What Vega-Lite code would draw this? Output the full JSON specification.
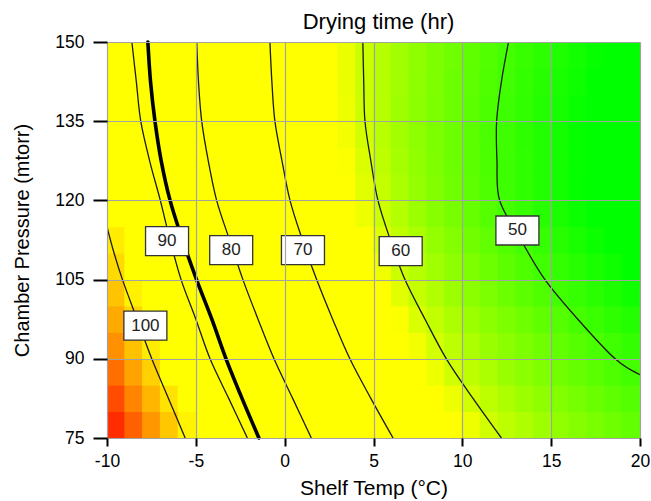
{
  "$schema": "https://vega.github.io/schema/vega-lite/v6.json",
  "width": 533,
  "height": 396,
  "autosize": {"type": "none"},
  "padding": {"left": 107, "top": 42, "right": 11, "bottom": 63},
  "background": "white",
  "config": {"view": {"stroke": null}, "font": "Liberation Sans"},
  "title": {"text": "Drying time (hr)", "fontSize": 22, "fontWeight": "normal", "font": "Liberation Sans", "color": "#000", "anchor": "middle", "offset": -1, "dx": 5},
  "datasets": {
    "grid": [
{"t":-9.5,"p":77.5,"v":110.4},{"t":-8.5,"p":77.5,"v":107.5},{"t":-7.5,"p":77.5,"v":104.6},{"t":-6.5,"p":77.5,"v":101.7},{"t":-5.5,"p":77.5,"v":98.8},{"t":-4.5,"p":77.5,"v":95.9},{"t":-3.5,"p":77.5,"v":93.0},{"t":-2.5,"p":77.5,"v":90.1},{"t":-1.5,"p":77.5,"v":87.4},{"t":-0.5,"p":77.5,"v":84.6},{"t":0.5,"p":77.5,"v":81.8},{"t":1.5,"p":77.5,"v":79.2},{"t":2.5,"p":77.5,"v":77.0},{"t":3.5,"p":77.5,"v":74.8},{"t":4.5,"p":77.5,"v":72.6},{"t":5.5,"p":77.5,"v":70.4},{"t":6.5,"p":77.5,"v":68.7},{"t":7.5,"p":77.5,"v":67.0},{"t":8.5,"p":77.5,"v":65.3},{"t":9.5,"p":77.5,"v":63.6},{"t":10.5,"p":77.5,"v":62.0},{"t":11.5,"p":77.5,"v":60.3},{"t":12.5,"p":77.5,"v":59.2},{"t":13.5,"p":77.5,"v":58.3},{"t":14.5,"p":77.5,"v":57.3},{"t":15.5,"p":77.5,"v":56.4},{"t":16.5,"p":77.5,"v":55.4},{"t":17.5,"p":77.5,"v":54.5},{"t":18.5,"p":77.5,"v":53.6},{"t":19.5,"p":77.5,"v":52.6},
{"t":-9.5,"p":82.5,"v":108.6},{"t":-8.5,"p":82.5,"v":105.7},{"t":-7.5,"p":82.5,"v":102.8},{"t":-6.5,"p":82.5,"v":99.9},{"t":-5.5,"p":82.5,"v":96.9},{"t":-4.5,"p":82.5,"v":94.0},{"t":-3.5,"p":82.5,"v":91.0},{"t":-2.5,"p":82.5,"v":88.2},{"t":-1.5,"p":82.5,"v":85.4},{"t":-0.5,"p":82.5,"v":82.6},{"t":0.5,"p":82.5,"v":79.9},{"t":1.5,"p":82.5,"v":77.6},{"t":2.5,"p":82.5,"v":75.4},{"t":3.5,"p":82.5,"v":73.1},{"t":4.5,"p":82.5,"v":70.9},{"t":5.5,"p":82.5,"v":68.9},{"t":6.5,"p":82.5,"v":67.2},{"t":7.5,"p":82.5,"v":65.5},{"t":8.5,"p":82.5,"v":63.7},{"t":9.5,"p":82.5,"v":62.0},{"t":10.5,"p":82.5,"v":60.3},{"t":11.5,"p":82.5,"v":59.2},{"t":12.5,"p":82.5,"v":58.2},{"t":13.5,"p":82.5,"v":57.2},{"t":14.5,"p":82.5,"v":56.2},{"t":15.5,"p":82.5,"v":55.2},{"t":16.5,"p":82.5,"v":54.2},{"t":17.5,"p":82.5,"v":53.3},{"t":18.5,"p":82.5,"v":52.3},{"t":19.5,"p":82.5,"v":51.3},
{"t":-9.5,"p":87.5,"v":106.8},{"t":-8.5,"p":87.5,"v":103.9},{"t":-7.5,"p":87.5,"v":101.0},{"t":-6.5,"p":87.5,"v":98.0},{"t":-5.5,"p":87.5,"v":95.0},{"t":-4.5,"p":87.5,"v":92.0},{"t":-3.5,"p":87.5,"v":89.0},{"t":-2.5,"p":87.5,"v":86.2},{"t":-1.5,"p":87.5,"v":83.5},{"t":-0.5,"p":87.5,"v":80.7},{"t":0.5,"p":87.5,"v":78.3},{"t":1.5,"p":87.5,"v":76.0},{"t":2.5,"p":87.5,"v":73.6},{"t":3.5,"p":87.5,"v":71.3},{"t":4.5,"p":87.5,"v":69.2},{"t":5.5,"p":87.5,"v":67.4},{"t":6.5,"p":87.5,"v":65.6},{"t":7.5,"p":87.5,"v":63.8},{"t":8.5,"p":87.5,"v":62.0},{"t":9.5,"p":87.5,"v":60.2},{"t":10.5,"p":87.5,"v":59.1},{"t":11.5,"p":87.5,"v":58.1},{"t":12.5,"p":87.5,"v":57.0},{"t":13.5,"p":87.5,"v":56.0},{"t":14.5,"p":87.5,"v":55.0},{"t":15.5,"p":87.5,"v":53.9},{"t":16.5,"p":87.5,"v":52.9},{"t":17.5,"p":87.5,"v":51.9},{"t":18.5,"p":87.5,"v":50.9},{"t":19.5,"p":87.5,"v":49.9},
{"t":-9.5,"p":92.5,"v":105.0},{"t":-8.5,"p":92.5,"v":102.1},{"t":-7.5,"p":92.5,"v":99.2},{"t":-6.5,"p":92.5,"v":96.2},{"t":-5.5,"p":92.5,"v":93.1},{"t":-4.5,"p":92.5,"v":90.1},{"t":-3.5,"p":92.5,"v":87.3},{"t":-2.5,"p":92.5,"v":84.5},{"t":-1.5,"p":92.5,"v":81.7},{"t":-0.5,"p":92.5,"v":79.1},{"t":0.5,"p":92.5,"v":76.7},{"t":1.5,"p":92.5,"v":74.4},{"t":2.5,"p":92.5,"v":72.0},{"t":3.5,"p":92.5,"v":69.7},{"t":4.5,"p":92.5,"v":67.9},{"t":5.5,"p":92.5,"v":66.0},{"t":6.5,"p":92.5,"v":64.1},{"t":7.5,"p":92.5,"v":62.3},{"t":8.5,"p":92.5,"v":60.4},{"t":9.5,"p":92.5,"v":59.1},{"t":10.5,"p":92.5,"v":58.1},{"t":11.5,"p":92.5,"v":57.0},{"t":12.5,"p":92.5,"v":55.9},{"t":13.5,"p":92.5,"v":54.8},{"t":14.5,"p":92.5,"v":53.7},{"t":15.5,"p":92.5,"v":52.6},{"t":16.5,"p":92.5,"v":51.6},{"t":17.5,"p":92.5,"v":50.5},{"t":18.5,"p":92.5,"v":49.6},{"t":19.5,"p":92.5,"v":48.8},
{"t":-9.5,"p":97.5,"v":103.5},{"t":-8.5,"p":97.5,"v":100.6},{"t":-7.5,"p":97.5,"v":97.5},{"t":-6.5,"p":97.5,"v":94.5},{"t":-5.5,"p":97.5,"v":91.5},{"t":-4.5,"p":97.5,"v":88.5},{"t":-3.5,"p":97.5,"v":85.7},{"t":-2.5,"p":97.5,"v":82.9},{"t":-1.5,"p":97.5,"v":80.1},{"t":-0.5,"p":97.5,"v":77.7},{"t":0.5,"p":97.5,"v":75.3},{"t":1.5,"p":97.5,"v":72.9},{"t":2.5,"p":97.5,"v":70.6},{"t":3.5,"p":97.5,"v":68.5},{"t":4.5,"p":97.5,"v":66.6},{"t":5.5,"p":97.5,"v":64.7},{"t":6.5,"p":97.5,"v":62.8},{"t":7.5,"p":97.5,"v":60.8},{"t":8.5,"p":97.5,"v":59.4},{"t":9.5,"p":97.5,"v":58.2},{"t":10.5,"p":97.5,"v":57.1},{"t":11.5,"p":97.5,"v":55.9},{"t":12.5,"p":97.5,"v":54.8},{"t":13.5,"p":97.5,"v":53.6},{"t":14.5,"p":97.5,"v":52.5},{"t":15.5,"p":97.5,"v":51.3},{"t":16.5,"p":97.5,"v":50.1},{"t":17.5,"p":97.5,"v":49.3},{"t":18.5,"p":97.5,"v":48.4},{"t":19.5,"p":97.5,"v":47.6},
{"t":-9.5,"p":102.5,"v":101.9},{"t":-8.5,"p":102.5,"v":98.9},{"t":-7.5,"p":102.5,"v":95.9},{"t":-6.5,"p":102.5,"v":92.8},{"t":-5.5,"p":102.5,"v":89.8},{"t":-4.5,"p":102.5,"v":87.0},{"t":-3.5,"p":102.5,"v":84.1},{"t":-2.5,"p":102.5,"v":81.2},{"t":-1.5,"p":102.5,"v":78.7},{"t":-0.5,"p":102.5,"v":76.3},{"t":0.5,"p":102.5,"v":73.9},{"t":1.5,"p":102.5,"v":71.5},{"t":2.5,"p":102.5,"v":69.2},{"t":3.5,"p":102.5,"v":67.2},{"t":4.5,"p":102.5,"v":65.3},{"t":5.5,"p":102.5,"v":63.3},{"t":6.5,"p":102.5,"v":61.3},{"t":7.5,"p":102.5,"v":59.6},{"t":8.5,"p":102.5,"v":58.4},{"t":9.5,"p":102.5,"v":57.1},{"t":10.5,"p":102.5,"v":55.9},{"t":11.5,"p":102.5,"v":54.7},{"t":12.5,"p":102.5,"v":53.4},{"t":13.5,"p":102.5,"v":52.2},{"t":14.5,"p":102.5,"v":51.0},{"t":15.5,"p":102.5,"v":49.8},{"t":16.5,"p":102.5,"v":48.9},{"t":17.5,"p":102.5,"v":48.0},{"t":18.5,"p":102.5,"v":47.1},{"t":19.5,"p":102.5,"v":46.2},
{"t":-9.5,"p":107.5,"v":100.4},{"t":-8.5,"p":107.5,"v":97.4},{"t":-7.5,"p":107.5,"v":94.4},{"t":-6.5,"p":107.5,"v":91.4},{"t":-5.5,"p":107.5,"v":88.5},{"t":-4.5,"p":107.5,"v":85.5},{"t":-3.5,"p":107.5,"v":82.6},{"t":-2.5,"p":107.5,"v":79.8},{"t":-1.5,"p":107.5,"v":77.3},{"t":-0.5,"p":107.5,"v":74.9},{"t":0.5,"p":107.5,"v":72.5},{"t":1.5,"p":107.5,"v":70.1},{"t":2.5,"p":107.5,"v":68.1},{"t":3.5,"p":107.5,"v":66.1},{"t":4.5,"p":107.5,"v":64.1},{"t":5.5,"p":107.5,"v":62.1},{"t":6.5,"p":107.5,"v":60.0},{"t":7.5,"p":107.5,"v":58.7},{"t":8.5,"p":107.5,"v":57.4},{"t":9.5,"p":107.5,"v":56.1},{"t":10.5,"p":107.5,"v":54.8},{"t":11.5,"p":107.5,"v":53.5},{"t":12.5,"p":107.5,"v":52.2},{"t":13.5,"p":107.5,"v":50.9},{"t":14.5,"p":107.5,"v":49.7},{"t":15.5,"p":107.5,"v":48.8},{"t":16.5,"p":107.5,"v":47.9},{"t":17.5,"p":107.5,"v":46.9},{"t":18.5,"p":107.5,"v":46.0},{"t":19.5,"p":107.5,"v":45.0},
{"t":-9.5,"p":112.5,"v":99.2},{"t":-8.5,"p":112.5,"v":96.2},{"t":-7.5,"p":112.5,"v":93.2},{"t":-6.5,"p":112.5,"v":90.2},{"t":-5.5,"p":112.5,"v":87.2},{"t":-4.5,"p":112.5,"v":84.2},{"t":-3.5,"p":112.5,"v":81.2},{"t":-2.5,"p":112.5,"v":78.6},{"t":-1.5,"p":112.5,"v":76.2},{"t":-0.5,"p":112.5,"v":73.7},{"t":0.5,"p":112.5,"v":71.3},{"t":1.5,"p":112.5,"v":69.1},{"t":2.5,"p":112.5,"v":67.1},{"t":3.5,"p":112.5,"v":65.1},{"t":4.5,"p":112.5,"v":63.0},{"t":5.5,"p":112.5,"v":61.0},{"t":6.5,"p":112.5,"v":59.3},{"t":7.5,"p":112.5,"v":58.0},{"t":8.5,"p":112.5,"v":56.6},{"t":9.5,"p":112.5,"v":55.3},{"t":10.5,"p":112.5,"v":53.9},{"t":11.5,"p":112.5,"v":52.6},{"t":12.5,"p":112.5,"v":51.2},{"t":13.5,"p":112.5,"v":49.9},{"t":14.5,"p":112.5,"v":48.9},{"t":15.5,"p":112.5,"v":47.9},{"t":16.5,"p":112.5,"v":46.9},{"t":17.5,"p":112.5,"v":45.9},{"t":18.5,"p":112.5,"v":44.9},{"t":19.5,"p":112.5,"v":43.9},
{"t":-9.5,"p":117.5,"v":97.9},{"t":-8.5,"p":117.5,"v":95.0},{"t":-7.5,"p":117.5,"v":92.1},{"t":-6.5,"p":117.5,"v":89.1},{"t":-5.5,"p":117.5,"v":86.0},{"t":-4.5,"p":117.5,"v":82.9},{"t":-3.5,"p":117.5,"v":79.8},{"t":-2.5,"p":117.5,"v":77.4},{"t":-1.5,"p":117.5,"v":75.0},{"t":-0.5,"p":117.5,"v":72.5},{"t":0.5,"p":117.5,"v":70.1},{"t":1.5,"p":117.5,"v":68.1},{"t":2.5,"p":117.5,"v":66.1},{"t":3.5,"p":117.5,"v":64.0},{"t":4.5,"p":117.5,"v":62.0},{"t":5.5,"p":117.5,"v":60.0},{"t":6.5,"p":117.5,"v":58.6},{"t":7.5,"p":117.5,"v":57.2},{"t":8.5,"p":117.5,"v":55.7},{"t":9.5,"p":117.5,"v":54.3},{"t":10.5,"p":117.5,"v":52.9},{"t":11.5,"p":117.5,"v":51.5},{"t":12.5,"p":117.5,"v":50.0},{"t":13.5,"p":117.5,"v":49.0},{"t":14.5,"p":117.5,"v":47.9},{"t":15.5,"p":117.5,"v":46.9},{"t":16.5,"p":117.5,"v":45.8},{"t":17.5,"p":117.5,"v":44.8},{"t":18.5,"p":117.5,"v":43.7},{"t":19.5,"p":117.5,"v":42.7},
{"t":-9.5,"p":122.5,"v":96.7},{"t":-8.5,"p":122.5,"v":93.8},{"t":-7.5,"p":122.5,"v":90.9},{"t":-6.5,"p":122.5,"v":87.9},{"t":-5.5,"p":122.5,"v":84.8},{"t":-4.5,"p":122.5,"v":81.6},{"t":-3.5,"p":122.5,"v":78.9},{"t":-2.5,"p":122.5,"v":76.4},{"t":-1.5,"p":122.5,"v":74.0},{"t":-0.5,"p":122.5,"v":71.6},{"t":0.5,"p":122.5,"v":69.3},{"t":1.5,"p":122.5,"v":67.3},{"t":2.5,"p":122.5,"v":65.3},{"t":3.5,"p":122.5,"v":63.3},{"t":4.5,"p":122.5,"v":61.3},{"t":5.5,"p":122.5,"v":59.5},{"t":6.5,"p":122.5,"v":58.0},{"t":7.5,"p":122.5,"v":56.6},{"t":8.5,"p":122.5,"v":55.1},{"t":9.5,"p":122.5,"v":53.7},{"t":10.5,"p":122.5,"v":52.3},{"t":11.5,"p":122.5,"v":50.8},{"t":12.5,"p":122.5,"v":49.5},{"t":13.5,"p":122.5,"v":48.5},{"t":14.5,"p":122.5,"v":47.4},{"t":15.5,"p":122.5,"v":46.4},{"t":16.5,"p":122.5,"v":45.3},{"t":17.5,"p":122.5,"v":44.3},{"t":18.5,"p":122.5,"v":43.2},{"t":19.5,"p":122.5,"v":42.1},
{"t":-9.5,"p":127.5,"v":95.5},{"t":-8.5,"p":127.5,"v":92.7},{"t":-7.5,"p":127.5,"v":89.8},{"t":-6.5,"p":127.5,"v":86.8},{"t":-5.5,"p":127.5,"v":83.8},{"t":-4.5,"p":127.5,"v":80.8},{"t":-3.5,"p":127.5,"v":78.2},{"t":-2.5,"p":127.5,"v":75.7},{"t":-1.5,"p":127.5,"v":73.3},{"t":-0.5,"p":127.5,"v":70.9},{"t":0.5,"p":127.5,"v":68.7},{"t":1.5,"p":127.5,"v":66.8},{"t":2.5,"p":127.5,"v":64.8},{"t":3.5,"p":127.5,"v":62.8},{"t":4.5,"p":127.5,"v":60.8},{"t":5.5,"p":127.5,"v":59.1},{"t":6.5,"p":127.5,"v":57.7},{"t":7.5,"p":127.5,"v":56.3},{"t":8.5,"p":127.5,"v":54.9},{"t":9.5,"p":127.5,"v":53.5},{"t":10.5,"p":127.5,"v":52.1},{"t":11.5,"p":127.5,"v":50.7},{"t":12.5,"p":127.5,"v":49.5},{"t":13.5,"p":127.5,"v":48.5},{"t":14.5,"p":127.5,"v":47.4},{"t":15.5,"p":127.5,"v":46.4},{"t":16.5,"p":127.5,"v":45.4},{"t":17.5,"p":127.5,"v":44.3},{"t":18.5,"p":127.5,"v":43.3},{"t":19.5,"p":127.5,"v":42.3},
{"t":-9.5,"p":132.5,"v":94.4},{"t":-8.5,"p":132.5,"v":91.6},{"t":-7.5,"p":132.5,"v":88.8},{"t":-6.5,"p":132.5,"v":85.8},{"t":-5.5,"p":132.5,"v":82.9},{"t":-4.5,"p":132.5,"v":79.9},{"t":-3.5,"p":132.5,"v":77.5},{"t":-2.5,"p":132.5,"v":75.1},{"t":-1.5,"p":132.5,"v":72.6},{"t":-0.5,"p":132.5,"v":70.2},{"t":0.5,"p":132.5,"v":68.2},{"t":1.5,"p":132.5,"v":66.2},{"t":2.5,"p":132.5,"v":64.2},{"t":3.5,"p":132.5,"v":62.3},{"t":4.5,"p":132.5,"v":60.3},{"t":5.5,"p":132.5,"v":58.8},{"t":6.5,"p":132.5,"v":57.5},{"t":7.5,"p":132.5,"v":56.1},{"t":8.5,"p":132.5,"v":54.7},{"t":9.5,"p":132.5,"v":53.4},{"t":10.5,"p":132.5,"v":52.0},{"t":11.5,"p":132.5,"v":50.6},{"t":12.5,"p":132.5,"v":49.5},{"t":13.5,"p":132.5,"v":48.4},{"t":14.5,"p":132.5,"v":47.4},{"t":15.5,"p":132.5,"v":46.4},{"t":16.5,"p":132.5,"v":45.4},{"t":17.5,"p":132.5,"v":44.4},{"t":18.5,"p":132.5,"v":43.4},{"t":19.5,"p":132.5,"v":42.4},
{"t":-9.5,"p":137.5,"v":93.5},{"t":-8.5,"p":137.5,"v":90.9},{"t":-7.5,"p":137.5,"v":88.0},{"t":-6.5,"p":137.5,"v":85.1},{"t":-5.5,"p":137.5,"v":82.3},{"t":-4.5,"p":137.5,"v":79.5},{"t":-3.5,"p":137.5,"v":77.0},{"t":-2.5,"p":137.5,"v":74.6},{"t":-1.5,"p":137.5,"v":72.2},{"t":-0.5,"p":137.5,"v":69.8},{"t":0.5,"p":137.5,"v":67.8},{"t":1.5,"p":137.5,"v":65.9},{"t":2.5,"p":137.5,"v":63.9},{"t":3.5,"p":137.5,"v":62.0},{"t":4.5,"p":137.5,"v":60.0},{"t":5.5,"p":137.5,"v":58.7},{"t":6.5,"p":137.5,"v":57.3},{"t":7.5,"p":137.5,"v":56.0},{"t":8.5,"p":137.5,"v":54.7},{"t":9.5,"p":137.5,"v":53.4},{"t":10.5,"p":137.5,"v":52.0},{"t":11.5,"p":137.5,"v":50.7},{"t":12.5,"p":137.5,"v":49.5},{"t":13.5,"p":137.5,"v":48.6},{"t":14.5,"p":137.5,"v":47.6},{"t":15.5,"p":137.5,"v":46.6},{"t":16.5,"p":137.5,"v":45.6},{"t":17.5,"p":137.5,"v":44.6},{"t":18.5,"p":137.5,"v":43.6},{"t":19.5,"p":137.5,"v":42.6},
{"t":-9.5,"p":142.5,"v":92.9},{"t":-8.5,"p":142.5,"v":90.4},{"t":-7.5,"p":142.5,"v":87.6},{"t":-6.5,"p":142.5,"v":84.8},{"t":-5.5,"p":142.5,"v":82.0},{"t":-4.5,"p":142.5,"v":79.2},{"t":-3.5,"p":142.5,"v":76.8},{"t":-2.5,"p":142.5,"v":74.4},{"t":-1.5,"p":142.5,"v":72.0},{"t":-0.5,"p":142.5,"v":69.6},{"t":0.5,"p":142.5,"v":67.7},{"t":1.5,"p":142.5,"v":65.8},{"t":2.5,"p":142.5,"v":63.8},{"t":3.5,"p":142.5,"v":61.9},{"t":4.5,"p":142.5,"v":59.9},{"t":5.5,"p":142.5,"v":58.7},{"t":6.5,"p":142.5,"v":57.4},{"t":7.5,"p":142.5,"v":56.1},{"t":8.5,"p":142.5,"v":54.8},{"t":9.5,"p":142.5,"v":53.5},{"t":10.5,"p":142.5,"v":52.3},{"t":11.5,"p":142.5,"v":51.0},{"t":12.5,"p":142.5,"v":49.8},{"t":13.5,"p":142.5,"v":48.8},{"t":14.5,"p":142.5,"v":47.9},{"t":15.5,"p":142.5,"v":46.9},{"t":16.5,"p":142.5,"v":46.0},{"t":17.5,"p":142.5,"v":45.0},{"t":18.5,"p":142.5,"v":44.0},{"t":19.5,"p":142.5,"v":43.1},
{"t":-9.5,"p":147.5,"v":92.4},{"t":-8.5,"p":147.5,"v":90.0},{"t":-7.5,"p":147.5,"v":87.2},{"t":-6.5,"p":147.5,"v":84.4},{"t":-5.5,"p":147.5,"v":81.7},{"t":-4.5,"p":147.5,"v":79.0},{"t":-3.5,"p":147.5,"v":76.6},{"t":-2.5,"p":147.5,"v":74.2},{"t":-1.5,"p":147.5,"v":71.7},{"t":-0.5,"p":147.5,"v":69.5},{"t":0.5,"p":147.5,"v":67.5},{"t":1.5,"p":147.5,"v":65.6},{"t":2.5,"p":147.5,"v":63.7},{"t":3.5,"p":147.5,"v":61.8},{"t":4.5,"p":147.5,"v":59.9},{"t":5.5,"p":147.5,"v":58.7},{"t":6.5,"p":147.5,"v":57.4},{"t":7.5,"p":147.5,"v":56.2},{"t":8.5,"p":147.5,"v":54.9},{"t":9.5,"p":147.5,"v":53.7},{"t":10.5,"p":147.5,"v":52.5},{"t":11.5,"p":147.5,"v":51.2},{"t":12.5,"p":147.5,"v":50.0},{"t":13.5,"p":147.5,"v":49.1},{"t":14.5,"p":147.5,"v":48.2},{"t":15.5,"p":147.5,"v":47.2},{"t":16.5,"p":147.5,"v":46.3},{"t":17.5,"p":147.5,"v":45.4},{"t":18.5,"p":147.5,"v":44.4},{"t":19.5,"p":147.5,"v":43.5}
    ],
    "contours": [
{"level":"100","t":-10,"p":115},{"level":"100","t":-9.6,"p":110},{"level":"100","t":-9.13,"p":105},{"level":"100","t":-8.31,"p":97.5},{"level":"100","t":-7.48,"p":90},{"level":"100","t":-6.54,"p":82.5},{"level":"100","t":-5.6,"p":75},
{"level":"90","t":-8.6,"p":150},{"level":"90","t":-8.35,"p":142.5},{"level":"90","t":-8.1,"p":135},{"level":"90","t":-7.6,"p":127.5},{"level":"90","t":-7.0,"p":120},{"level":"90","t":-6.45,"p":112.5},{"level":"90","t":-5.83,"p":105},{"level":"90","t":-5.0,"p":97.5},{"level":"90","t":-4.2,"p":90},{"level":"90","t":-3.15,"p":82.5},{"level":"90","t":-2.1,"p":75},
{"level":"80","t":-4.95,"p":150},{"level":"80","t":-4.85,"p":142.5},{"level":"80","t":-4.67,"p":135},{"level":"80","t":-4.3,"p":127.5},{"level":"80","t":-3.83,"p":120},{"level":"80","t":-3.1,"p":112.5},{"level":"80","t":-2.35,"p":105},{"level":"80","t":-1.5,"p":97.5},{"level":"80","t":-0.6,"p":90},{"level":"80","t":0.45,"p":82.5},{"level":"80","t":1.5,"p":75},
{"level":"70","t":-0.83,"p":150},{"level":"70","t":-0.72,"p":142.5},{"level":"70","t":-0.55,"p":135},{"level":"70","t":-0.15,"p":127.5},{"level":"70","t":0.3,"p":120},{"level":"70","t":1.0,"p":112.5},{"level":"70","t":1.8,"p":105},{"level":"70","t":2.7,"p":97.5},{"level":"70","t":3.67,"p":90},{"level":"70","t":4.85,"p":82.5},{"level":"70","t":6.1,"p":75},
{"level":"60","t":4.4,"p":150},{"level":"60","t":4.45,"p":142.5},{"level":"60","t":4.52,"p":135},{"level":"60","t":4.85,"p":127.5},{"level":"60","t":5.25,"p":120},{"level":"60","t":5.95,"p":112.5},{"level":"60","t":6.77,"p":105},{"level":"60","t":7.9,"p":97.5},{"level":"60","t":9.1,"p":90},{"level":"60","t":10.6,"p":82.5},{"level":"60","t":12.2,"p":75},
{"level":"50","t":12.6,"p":150},{"level":"50","t":12.2,"p":142.5},{"level":"50","t":11.93,"p":135},{"level":"50","t":11.95,"p":127.5},{"level":"50","t":12.1,"p":120},{"level":"50","t":13.3,"p":112.5},{"level":"50","t":14.65,"p":105},{"level":"50","t":16.5,"p":97.5},{"level":"50","t":18.6,"p":90},{"level":"50","t":20,"p":87}
    ],
    "thick": [
{"t":-7.7,"p":150},{"t":-7.55,"p":142.5},{"t":-7.3,"p":135},{"t":-6.95,"p":127.5},{"t":-6.45,"p":120},{"t":-5.75,"p":112.5},{"t":-4.96,"p":105},{"t":-4.1,"p":97.5},{"t":-3.3,"p":90},{"t":-2.4,"p":82.5},{"t":-1.45,"p":75}
    ],
    "labels": [
{"lab":"100","t":-7.84,"p":96.3},{"lab":"90","t":-6.62,"p":112.3},{"lab":"80","t":-3.01,"p":110.6},{"lab":"70","t":1.03,"p":110.6},{"lab":"60","t":6.53,"p":110.4},{"lab":"50","t":13.1,"p":114.3}
    ]
  },
  "encoding": {
    "x": {"field": "t", "type": "quantitative", "scale": {"domain": [-10, 20], "nice": false, "zero": false},
      "axis": {"values": [-10, -5, 0, 5, 10, 15, 20], "labelExpr": "toString(datum.value)", "title": "Shelf Temp (°C)", "zindex": 1, "domain": false,
        "grid": true, "gridColor": "#a3a3a3", "gridWidth": 1.2, "gridOpacity": 1,
        "tickColor": "#000", "tickWidth": 2, "tickSize": 8, "labelPadding": 6, "labelFontSize": 17.5, "labelColor": "#000", "labelFont": "Liberation Sans",
        "titleFontSize": 21, "titleFontWeight": "normal", "titleColor": "#000", "titleFont": "Liberation Sans", "titleX": 266.5, "titleY": 50, "titleBaseline": "middle", "titleAlign": "center", "labelFlush": false}},
    "y": {"field": "p", "type": "quantitative", "scale": {"domain": [75, 150], "nice": false, "zero": false},
      "axis": {"values": [75, 90, 105, 120, 135, 150], "format": "d", "title": "Chamber Pressure (mtorr)", "zindex": 1, "domain": false,
        "grid": true, "gridColor": "#a3a3a3", "gridWidth": 1.2, "gridOpacity": 1,
        "tickColor": "#000", "tickWidth": 2, "tickSize": 14, "labelPadding": 9, "labelFontSize": 17.5, "labelColor": "#000", "labelFont": "Liberation Sans",
        "titleFontSize": 20, "titleFontWeight": "normal", "titleColor": "#000", "titleFont": "Liberation Sans", "titleX": -85, "titleY": 198, "titleAngle": -90, "titleBaseline": "middle", "titleAlign": "center", "labelFlush": false}}
  },
  "layer": [
    {
      "data": {"name": "grid"},
      "mark": {"type": "rect", "width": 18.6, "height": 27.3, "clip": true},
      "encoding": {
        "color": {"field": "v", "type": "quantitative", "legend": null,
          "scale": {"type": "linear", "clamp": true, "interpolate": "rgb",
            "domain": [45, 50, 53, 57, 60, 63, 98, 100, 102.5, 105.5, 109, 113],
            "range": ["#00ff00", "#44ff00", "#66ff00", "#99ff00", "#ccff00", "#ffff00", "#ffff00", "#ffe000", "#ffbb00", "#ff8800", "#ff4400", "#ff0000"]}}
      }
    },
    {
      "data": {"name": "contours"},
      "mark": {"type": "line", "color": "#1a1a1a", "strokeWidth": 1.3, "interpolate": "cardinal", "clip": true},
      "encoding": {"detail": {"field": "level"}, "order": {"field": "p", "type": "quantitative"}}
    },
    {
      "data": {"name": "thick"},
      "mark": {"type": "line", "color": "#000", "strokeWidth": 3.6, "interpolate": "cardinal", "strokeCap": "round"},
      "encoding": {"order": {"field": "p", "type": "quantitative"}}
    },
    {
      "data": {"name": "labels"},
      "mark": {"type": "rect", "width": 43, "height": 29, "fill": "#ffffff", "stroke": "#333333", "strokeWidth": 1.3}
    },
    {
      "data": {"name": "labels"},
      "mark": {"type": "text", "fontSize": 17, "font": "Liberation Sans", "color": "#222", "align": "center", "baseline": "middle"},
      "encoding": {"text": {"field": "lab"}}
    }
  ]
}
